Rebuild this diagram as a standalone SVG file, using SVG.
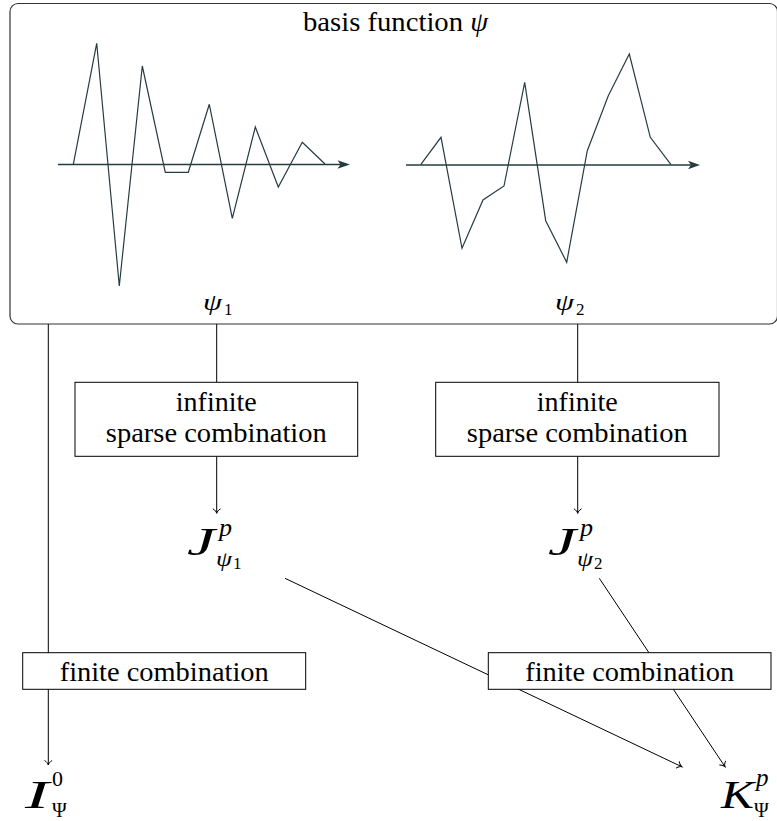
<svg xmlns="http://www.w3.org/2000/svg" width="777" height="821" viewBox="0 0 777 821">
<style>
text { font-family: "Liberation Serif", "DejaVu Serif", serif; fill: #000; }
.lbl { font-size: 27px; }
.it { font-style: italic; }
.m { font-style: italic; font-size: 40px; font-weight: 300; }
.box { fill: #fff; stroke: #000; stroke-width: 1; }
.conn { fill: none; stroke: #000; stroke-width: 1; }
.wave { fill: none; stroke: #263c40; stroke-width: 1.2; }
.axis { fill: none; stroke: #263c40; stroke-width: 1.4; }
.ahead { fill: #263c40; }
</style>
<defs>
<marker id="to" markerUnits="userSpaceOnUse" markerWidth="12" markerHeight="12" refX="0" refY="0" viewBox="-6 -6 12 12" orient="auto" overflow="visible">
<path d="M-4.5,-3.8 C-3.2,-1.6 -1.5,-0.4 0,0 C-1.5,0.4 -3.2,1.6 -4.5,3.8" fill="none" stroke="#000" stroke-width="1"/>
</marker>
</defs>

<g id="basis">
<rect x="10" y="3.5" width="767.5" height="320.5" rx="8" ry="8" fill="#fff" stroke="#333" stroke-width="1.2"/>
<text class="lbl" x="303" y="31" textLength="185" lengthAdjust="spacingAndGlyphs">basis function <tspan class="it">ψ</tspan></text>
<line class="axis" x1="58" y1="164.5" x2="342" y2="164.5"/>
<path class="ahead" d="M350,164.5 L337.5,160.3 L340.5,164.5 L337.5,168.7 Z"/>
<polyline class="wave" points="73.3,164.3 96.7,43.3 119.3,286 142.3,66 165.3,172.3 188.3,172.3 209.3,104.3 232.3,218.3 255.3,127 278.3,187 302.3,142.3 325,164"/>
<line class="axis" x1="406" y1="165" x2="692" y2="165"/>
<path class="ahead" d="M700,165 L688,160.8 L691,165 L688,169.2 Z"/>
<polyline class="wave" points="420.7,164.7 441,137.3 462,248.3 483,200 504,186 524.7,82.3 545.7,220.7 566.7,262.3 587.3,150.7 608.3,95.7 629.3,54 650.3,137.3 671,164.7"/>
<text x="203" y="310" font-size="24" class="it" textLength="19" lengthAdjust="spacingAndGlyphs">ψ</text><text x="224" y="315" font-size="17">1</text>
<text x="555" y="310" font-size="24" class="it" textLength="19" lengthAdjust="spacingAndGlyphs">ψ</text><text x="576" y="315" font-size="17">2</text>
</g>

<g id="connectors">
<line class="conn" x1="48.3" y1="324" x2="48.3" y2="765" marker-end="url(#to)"/>
<line class="conn" x1="216.7" y1="324" x2="216.7" y2="382.3"/>
<line class="conn" x1="216.7" y1="456.3" x2="216.7" y2="513.3" marker-end="url(#to)"/>
<line class="conn" x1="577.7" y1="324" x2="577.7" y2="382.3"/>
<line class="conn" x1="577.7" y1="456.3" x2="577.7" y2="513.3" marker-end="url(#to)"/>
<line class="conn" x1="285" y1="578.3" x2="681.7" y2="766.7" marker-end="url(#to)"/>
<line class="conn" x1="599.3" y1="578.3" x2="725" y2="766.7" marker-end="url(#to)"/>
</g>

<g id="infinite1">
<rect class="box" x="75" y="382.3" width="282.7" height="74"/>
<text class="lbl" x="216.3" y="411" text-anchor="middle" textLength="81" lengthAdjust="spacingAndGlyphs">infinite</text>
<text class="lbl" x="216.3" y="442" text-anchor="middle" textLength="221" lengthAdjust="spacingAndGlyphs">sparse combination</text>
</g>

<g id="infinite2">
<rect class="box" x="435.7" y="382.3" width="283.3" height="74"/>
<text class="lbl" x="577.3" y="411" text-anchor="middle" textLength="81" lengthAdjust="spacingAndGlyphs">infinite</text>
<text class="lbl" x="577.3" y="442" text-anchor="middle" textLength="221" lengthAdjust="spacingAndGlyphs">sparse combination</text>
</g>

<g id="J1">
<text x="187" y="555" class="m" textLength="28" lengthAdjust="spacingAndGlyphs">J</text>
<text x="219" y="536" font-size="26" class="it">p</text>
<text x="216" y="566" font-size="22" class="it" textLength="16" lengthAdjust="spacingAndGlyphs">ψ</text>
<text x="233" y="569" font-size="17">1</text>
</g>

<g id="J2">
<text x="548" y="555" class="m" textLength="28" lengthAdjust="spacingAndGlyphs">J</text>
<text x="580" y="536" font-size="26" class="it">p</text>
<text x="577" y="566" font-size="22" class="it" textLength="16" lengthAdjust="spacingAndGlyphs">ψ</text>
<text x="594" y="569" font-size="17">2</text>
</g>

<g id="finite1">
<rect class="box" x="22.7" y="652.7" width="283" height="36.6"/>
<text class="lbl" x="164.2" y="681" text-anchor="middle" textLength="209" lengthAdjust="spacingAndGlyphs">finite combination</text>
</g>

<g id="finite2">
<rect class="box" x="488.3" y="652.7" width="282.7" height="36.6"/>
<text class="lbl" x="629.7" y="681" text-anchor="middle" textLength="209" lengthAdjust="spacingAndGlyphs">finite combination</text>
</g>

<g id="I0">
<text x="25" y="808" class="m" textLength="24" lengthAdjust="spacingAndGlyphs">I</text>
<text x="52" y="786" font-size="22">0</text>
<text x="52" y="817" font-size="20">Ψ</text>
</g>

<g id="Kp">
<text x="721" y="808" class="m" textLength="33" lengthAdjust="spacingAndGlyphs">K</text>
<text x="756" y="786" font-size="25" class="it">p</text>
<text x="754" y="817" font-size="20">Ψ</text>
</g>
</svg>
